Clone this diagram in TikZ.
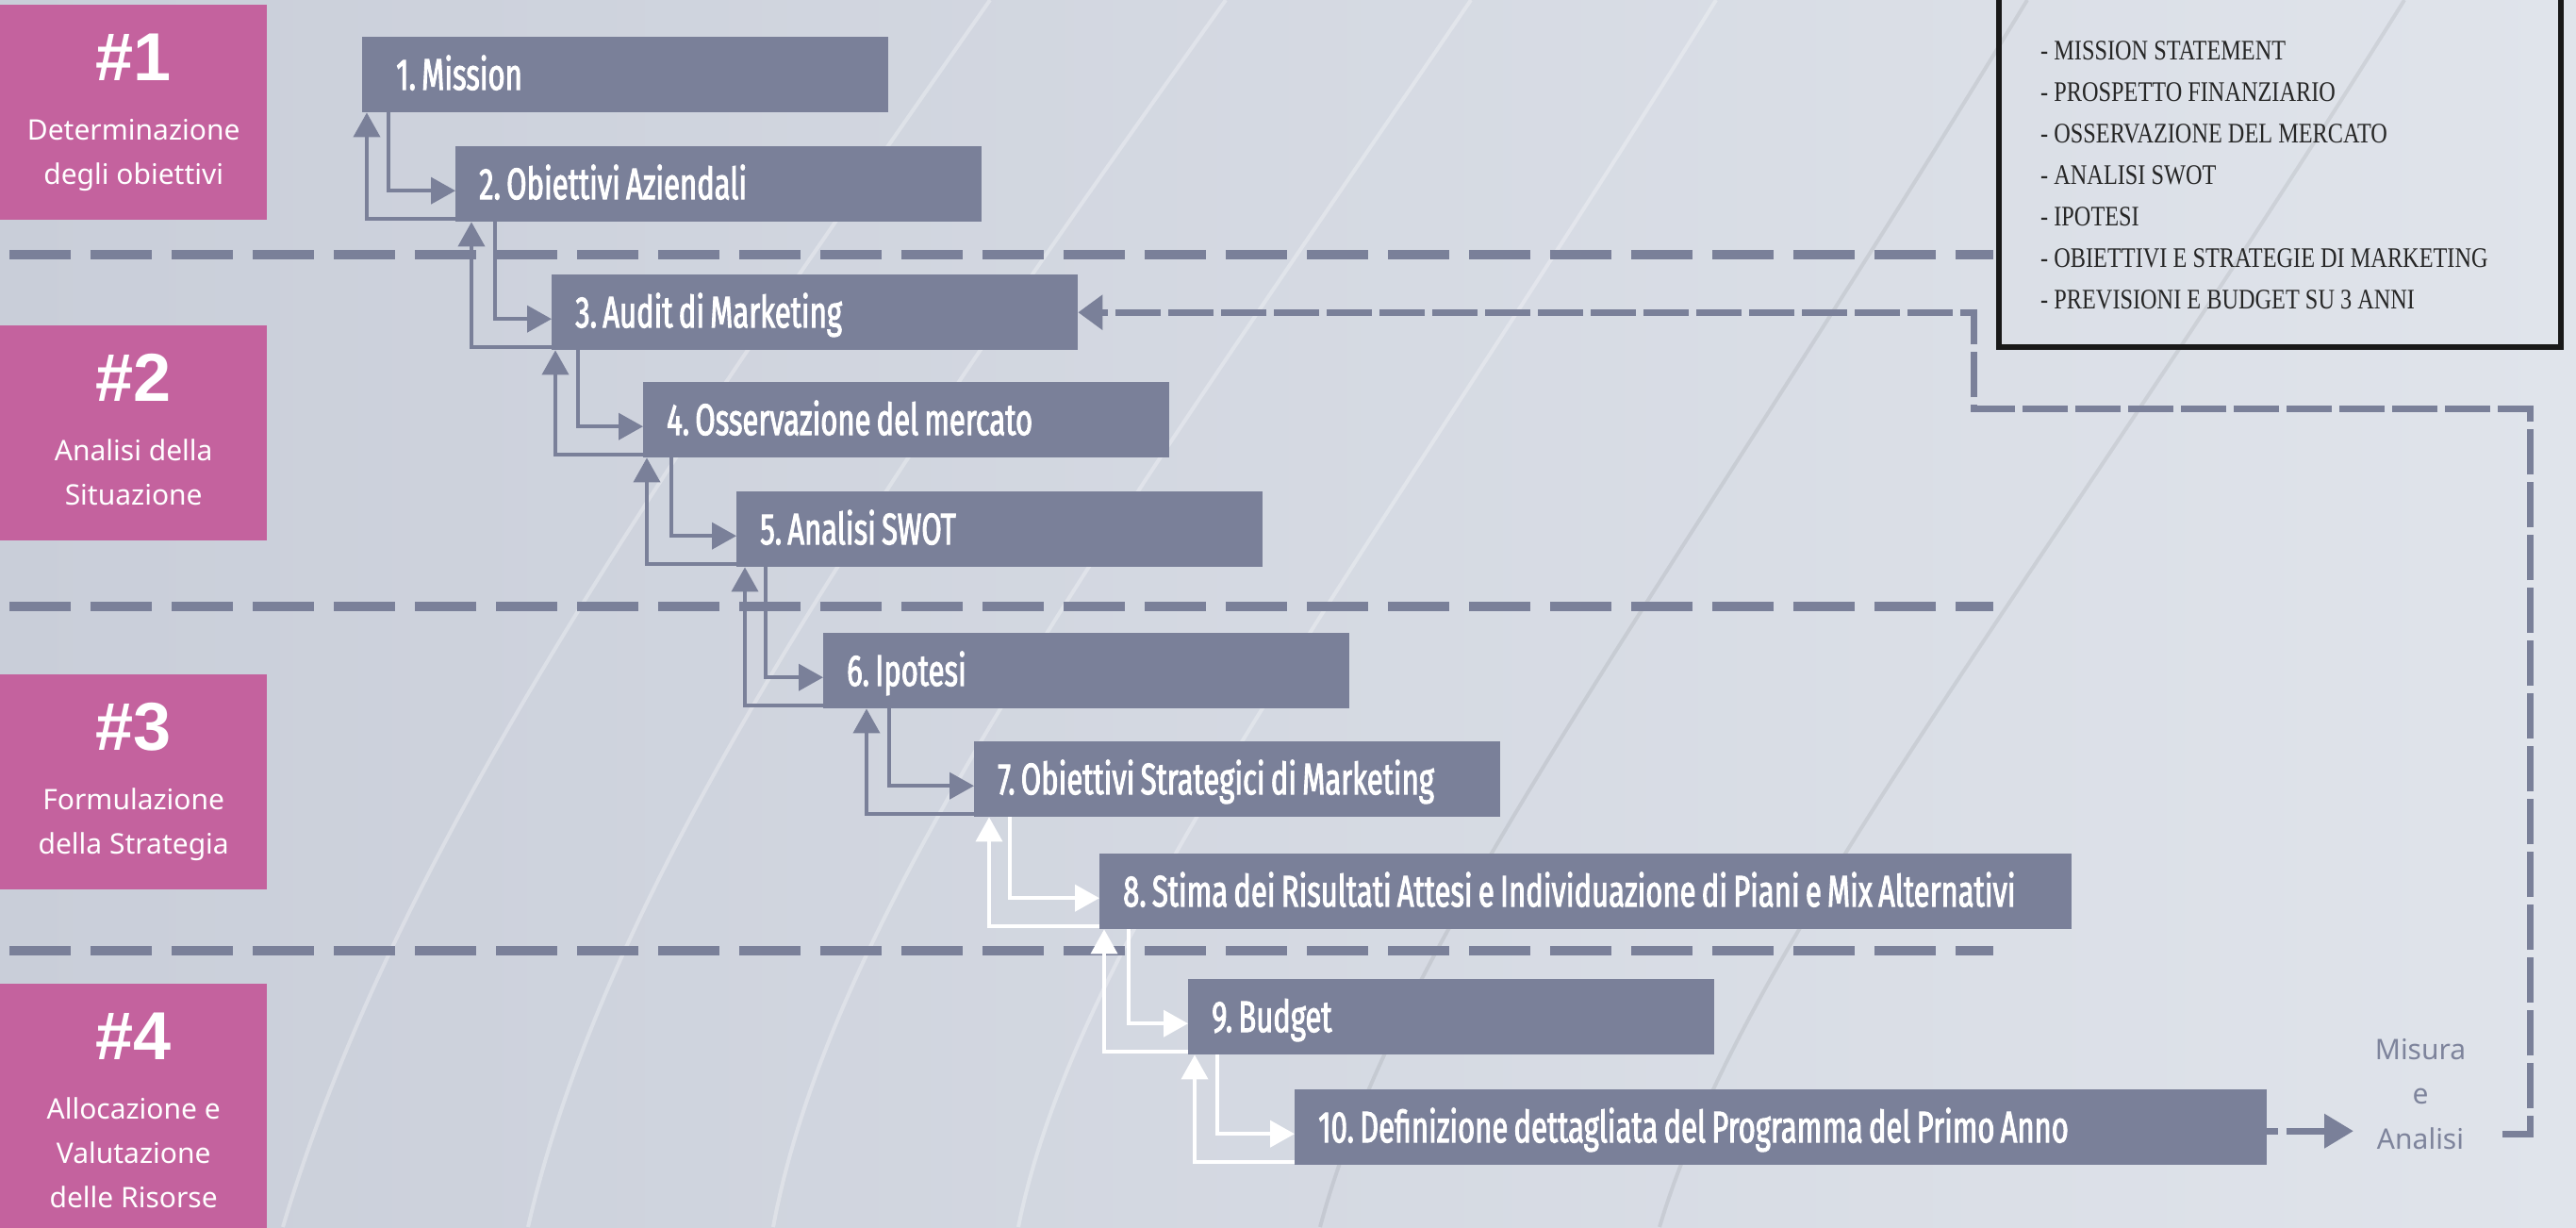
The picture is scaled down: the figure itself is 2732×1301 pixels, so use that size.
\documentclass[tikz,border=0pt]{standalone}
\usepackage{fontspec}
\setmainfont{Noto Sans}
\newfontfamily\stepfont[FakeStretch=0.66,WordSpace=0.75,FakeBold=2]{Fira Sans}
\newfontfamily\listfont[FakeStretch=0.81]{Liberation Serif}
\newfontfamily\numfont{Liberation Sans}
\usetikzlibrary{arrows.meta,calc,positioning}

\definecolor{slate}{HTML}{7A8099}
\definecolor{orchid}{HTML}{C4629E}
\definecolor{bgleft}{HTML}{C9CED9}
\definecolor{bgright}{HTML}{E0E4EB}
\definecolor{mute}{HTML}{7E849C}

% label kept on one line, flush left inside its box
\newcommand{\lbl}[2][508pt]{\makebox[#1][l]{#2}}

\tikzset{
  stepbox/.style={anchor=north west, fill=slate, text=white, inner xsep=25pt, inner ysep=0pt,
    minimum height=80pt, text height=32pt, text depth=0pt,
    font=\stepfont\fontsize{47}{50}\selectfont\frenchspacing},
  phasebox/.style={anchor=north west, fill=orchid, minimum width=283pt, minimum height=228pt, inner sep=0pt},
  phasenum/.style={anchor=base, text=white, inner sep=0pt, font=\numfont\bfseries\fontsize{72}{72}\selectfont},
  phasetxt/.style={anchor=base, text=white, inner sep=0pt, font=\fontsize{30}{34}\selectfont},
  flow/.style={line width=4pt, -{Triangle[length=26pt,width=28pt]}},
  sepline/.style={slate, line width=10pt, dash pattern=on 65pt off 21pt},
  fbline/.style={slate, line width=7pt, dash pattern=on 48pt off 8pt},
  swirl/.style={white, opacity=0.3, line width=4pt}
}

\begin{document}
\begin{tikzpicture}[x=1pt,y=-1pt]
\useasboundingbox (0,0) rectangle (2732,1301);
\clip (0,0) rectangle (2732,1301);
\shade[left color=bgleft, right color=bgright] (0,0) rectangle (2732,1301);
% faint swirls of the backdrop
\draw[swirl] (300,1301) .. controls (420,900) and (700,500) .. (1050,0);
\draw[swirl] (560,1301) .. controls (640,950) and (900,560) .. (1300,0);
\draw[swirl] (820,1301) .. controls (880,980) and (1150,600) .. (1560,0);
\draw[swirl] (1080,1301) .. controls (1140,1000) and (1420,640) .. (1820,0);
\draw[swirl, black, opacity=0.07] (1400,1301) .. controls (1480,1000) and (1760,640) .. (2150,0);
\draw[swirl, black, opacity=0.07] (1760,1301) .. controls (1850,1000) and (2150,640) .. (2550,0);

% phase separators
\draw[sepline] (10,270) -- (2114,270);
\draw[sepline] (10,643) -- (2114,643);
\draw[sepline] (10,1008) -- (2114,1008);

% phases
\node[phasebox] (ph1) at (0,5) {};
\node[phasebox] (ph2) at (0,345) {};
\node[phasebox] (ph3) at (0,715) {};
\node[phasebox, minimum height=280pt] (ph4) at (0,1043) {};

\node[phasenum] (n1) at ([yshift=-80pt]ph1.north) {\#1};
\node[phasetxt] (t1a) at ([yshift=-143pt]ph1.north) {Determinazione};
\node[phasetxt] (t1b) at ([yshift=-190pt]ph1.north) {degli obiettivi};

\node[phasenum] (n2) at ([yshift=-80pt]ph2.north) {\#2};
\node[phasetxt] (t2a) at ([yshift=-143pt]ph2.north) {Analisi della};
\node[phasetxt] (t2b) at ([yshift=-190pt]ph2.north) {Situazione};

\node[phasenum] (n3) at ([yshift=-80pt]ph3.north) {\#3};
\node[phasetxt] (t3a) at ([yshift=-143pt]ph3.north) {Formulazione};
\node[phasetxt] (t3b) at ([yshift=-190pt]ph3.north) {della Strategia};

\node[phasenum] (n4) at ([yshift=-80pt]ph4.north) {\#4};
\node[phasetxt] (t4a) at ([yshift=-143pt]ph4.north) {Allocazione e};
\node[phasetxt] (t4b) at ([yshift=-190pt]ph4.north) {Valutazione};
\node[phasetxt] (t4c) at ([yshift=-237pt]ph4.north) {delle Risorse};

% steps
\node[stepbox] (b1) at (384,39) {\lbl{\hspace*{11pt}1. Mission}};
\node[stepbox] (b2) at (483,155) {\lbl{2. Obiettivi Aziendali}};
\node[stepbox] (b3) at (585,291) {\lbl{3. Audit di Marketing}};
\node[stepbox] (b4) at (682,405) {\lbl{4. Osservazione del mercato}};
\node[stepbox] (b5) at (781,521) {\lbl{5. Analisi SWOT}};
\node[stepbox] (b6) at (873,671) {\lbl{6. Ipotesi}};
\node[stepbox] (b7) at (1033,786) {\lbl{7. Obiettivi Strategici di Marketing}};
\node[stepbox] (b8) at (1166,905) {\lbl[981pt]{8. Stima dei Risultati Attesi e Individuazione di Piani e Mix Alternativi}};
\node[stepbox] (b9) at (1260,1038) {\lbl{9. Budget}};
\node[stepbox] (b10) at (1373,1155) {\lbl[981pt]{10. Definizione dettagliata del Programma del Primo Anno}};

% forward and back links
\draw[flow, slate] ([xshift=28pt]b1.south west) |- ([yshift=-7pt]b2.west);
\draw[flow, slate] ([yshift=3pt]b2.south west) -| ([xshift=5pt]b1.south west);
\draw[flow, slate] ([xshift=42pt]b2.south west) |- ([yshift=-7pt]b3.west);
\draw[flow, slate] ([yshift=3pt]b3.south west) -| ([xshift=17pt]b2.south west);
\draw[flow, slate] ([xshift=28pt]b3.south west) |- ([yshift=-7pt]b4.west);
\draw[flow, slate] ([yshift=3pt]b4.south west) -| ([xshift=4pt]b3.south west);
\draw[flow, slate] ([xshift=30pt]b4.south west) |- ([yshift=-7pt]b5.west);
\draw[flow, slate] ([yshift=3pt]b5.south west) -| ([xshift=4pt]b4.south west);
\draw[flow, slate] ([xshift=31pt]b5.south west) |- ([yshift=-7pt]b6.west);
\draw[flow, slate] ([yshift=3pt]b6.south west) -| ([xshift=9pt]b5.south west);
\draw[flow, slate] ([xshift=70pt]b6.south west) |- ([yshift=-7pt]b7.west);
\draw[flow, slate] ([yshift=3pt]b7.south west) -| ([xshift=46pt]b6.south west);
\draw[flow, white] ([xshift=38pt]b7.south west) |- ([yshift=-7pt]b8.west);
\draw[flow, white] ([yshift=3pt]b8.south west) -| ([xshift=16pt]b7.south west);
\draw[flow, white] ([xshift=31pt]b8.south west) |- ([yshift=-7pt]b9.west);
\draw[flow, white] ([yshift=3pt]b9.south west) -| ([xshift=5pt]b8.south west);
\draw[flow, white] ([xshift=31pt]b9.south west) |- ([yshift=-7pt]b10.west);
\draw[flow, white] ([yshift=3pt]b10.south west) -| ([xshift=7pt]b9.south west);

% plan contents
\draw[line width=6pt, black!90] (2120,-20) rectangle (2716,368);
\foreach \line [count=\i] in {- MISSION STATEMENT, - PROSPETTO FINANZIARIO, - OSSERVAZIONE DEL MERCATO,
  - ANALISI SWOT, - IPOTESI, - OBIETTIVI E STRATEGIE DI MARKETING, - PREVISIONI E BUDGET SU 3 ANNI}
  \node[anchor=base west, inner sep=0pt, text=black!85, font=\listfont\fontsize{30}{30}\selectfont]
    (li\i) at (2164,19+44*\i) {\line};

% control loop
\node[align=center, text=mute, inner sep=0pt, font=\fontsize{30}{47.5}\selectfont] (misura) at (2567,1160) {Misura\\e\\Analisi};
\coordinate (fb0) at (2654,1202);
\coordinate (fb1) at (2683,433);
\coordinate (fb2) at (2093,433);
\draw[fbline, dash pattern=on 12pt off 9pt on 90pt off 1pt, -{Triangle[length=31pt,width=35pt]}]
  ([yshift=-4pt]b10.east) -- ([yshift=-4pt]b10.east -| 2496,0);
\draw[fbline, -{Triangle[length=26pt,width=36pt]}] (fb0) -| (fb1) -- (fb2) |- (b3.east);
\end{tikzpicture}
\end{document}
